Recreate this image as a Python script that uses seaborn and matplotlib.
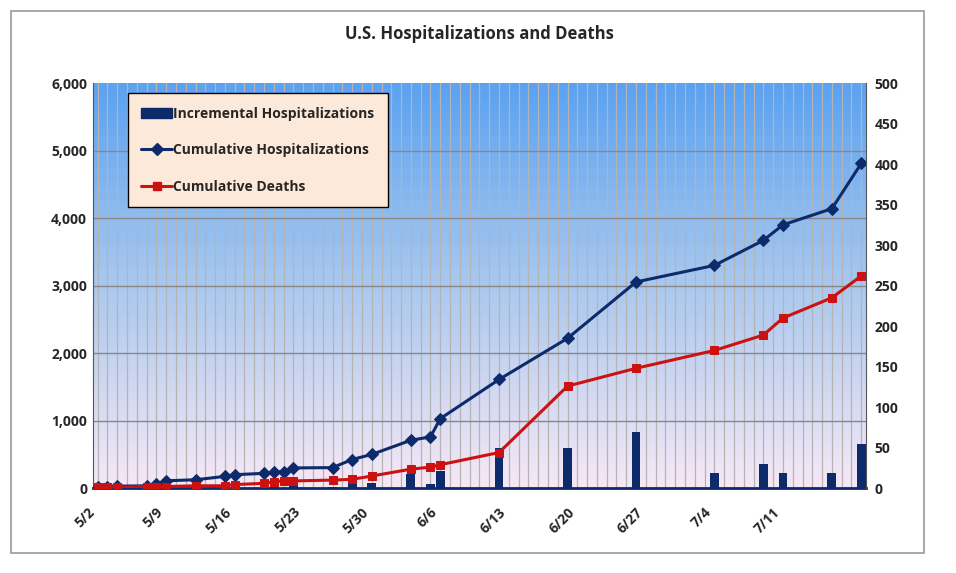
import numpy as np
import pandas as pd
import matplotlib
matplotlib.use("Agg")
import matplotlib.pyplot as plt
import seaborn as sns
from matplotlib.patches import Rectangle
from matplotlib.lines import Line2D
from matplotlib.colors import LinearSegmentedColormap

sns.set_style("white")
plt.rcParams['font.family'] = ['Open Sans', 'DejaVu Sans']

# day index: 0 = 5/2
hosp_days = [0, 1, 2, 5, 6, 7, 10, 13, 14, 17, 18, 19, 20, 24, 26, 28, 32, 34, 35, 41, 48, 55, 63, 68, 70, 75, 78]
hosp_cum = [20, 25, 30, 35, 60, 110, 125, 175, 200, 220, 240, 245, 300, 305, 425, 500, 710, 760, 1030, 1610, 2220, 3055, 3300, 3670, 3900, 4140, 4810]
death_cum = [1, 1, 1, 2, 2, 2, 3, 3, 4.5, 6, 8, 9, 9, 10, 11, 15, 23.5, 26, 29, 44, 126, 148, 170, 189, 210, 235, 262]
bar_days = [17, 18, 19, 20, 24, 26, 28, 32, 34, 35, 41, 48, 55, 63, 68, 70, 75, 78]
bar_vals = [20, 20, 10, 40, 20, 90, 80, 210, 55, 250, 590, 600, 835, 230, 355, 230, 230, 655]
tick_days = [0, 7, 14, 21, 28, 35, 42, 49, 56, 63, 70]
tick_labels = ["5/2", "5/9", "5/16", "5/23", "5/30", "6/6", "6/13", "6/20", "6/27", "7/4", "7/11"]

NAVY = "#0d2a6b"
RED = "#cc1111"

fig = plt.figure(figsize=(9.56, 5.73), dpi=100)
fig.patches.append(Rectangle((0.012, 0.035), 0.955, 0.945, transform=fig.transFigure,
                             fill=False, edgecolor="#999999", lw=1.2))
ax = fig.add_axes([0.097, 0.148, 0.809, 0.707])
ax2 = ax.twinx()

xmin, xmax = -0.5, 78.5
grad = np.linspace(0, 1, 256).reshape(-1, 1)
cmap = LinearSegmentedColormap.from_list("bg", ["#f7e8f5", "#a9c8ee", "#5aa2f2"])
ax.imshow(grad, aspect="auto", cmap=cmap, origin="lower",
          extent=[xmin, xmax, 0, 6000], zorder=0)

for d in range(0, 79):
    ax.axvline(d, color="#b4b4b4", lw=0.9, zorder=1)
for yv in range(1000, 6000, 1000):
    ax.axhline(yv, color="#888888", lw=1.0, zorder=1)

ax.bar(bar_days, bar_vals, width=0.9, color=NAVY, linewidth=0, zorder=3)
df_h = pd.DataFrame({"day": hosp_days, "v": hosp_cum})
sns.lineplot(data=df_h, x="day", y="v", ax=ax, color=NAVY, lw=2.2, marker="D",
             markersize=6, markeredgecolor=NAVY, zorder=4)
df_d = pd.DataFrame({"day": hosp_days, "v": death_cum})
sns.lineplot(data=df_d, x="day", y="v", ax=ax2, color=RED, lw=2.2, marker="s",
             markersize=6, markeredgecolor=RED, zorder=4)

ax.set_xlim(xmin, xmax)
ax.set_ylim(0, 6000)
ax2.set_ylim(0, 500)
ax.set_yticks(range(0, 6001, 1000))
ax.set_yticklabels([f"{v:,}" for v in range(0, 6001, 1000)], fontsize=10, fontweight="bold")
ax2.set_yticks(range(0, 501, 50))
ax2.set_yticklabels([str(v) for v in range(0, 501, 50)], fontsize=10, fontweight="bold")
ax.set_xticks(tick_days)
ax.set_xticklabels(tick_labels, rotation=45, ha="right", fontsize=10, fontweight="bold")
ax.set_xlabel("")
ax.set_ylabel("")
ax2.set_ylabel("")
for a in (ax, ax2):
    for s in a.spines.values():
        s.set_visible(False)
ax.spines["left"].set_visible(True)
ax.spines["left"].set_color("#555555")
ax.spines["bottom"].set_visible(True)
ax.spines["bottom"].set_color(NAVY)
ax.spines["bottom"].set_linewidth(2)
ax2.spines["right"].set_visible(True)
ax2.spines["right"].set_color("#555555")
ax.tick_params(axis="x", length=0, pad=12)
ax.tick_params(axis="y", length=0, pad=4)
ax2.tick_params(axis="y", length=0, pad=6)

ax.set_title("U.S. Hospitalizations and Deaths", fontsize=12, fontweight="bold", pad=32)

handles = [Rectangle((0, 0), 1, 1, color=NAVY),
           Line2D([], [], color=NAVY, lw=2.2, marker="D", markersize=6),
           Line2D([], [], color=RED, lw=2.2, marker="s", markersize=6)]
leg = ax2.legend(handles, ["Incremental Hospitalizations", "Cumulative Hospitalizations", "Cumulative Deaths"],
                 loc="upper left", bbox_to_anchor=(0.045, 0.975), fontsize=10,
                 frameon=True, fancybox=False, borderpad=1.0, labelspacing=1.6,
                 handlelength=2.2, handletextpad=0.1, borderaxespad=0)
leg.get_frame().set_facecolor("#fde9d9")
leg.get_frame().set_edgecolor("black")
leg.get_frame().set_alpha(1)
for t in leg.get_texts():
    t.set_fontweight("bold")

fig.savefig("out.png", dpi=100)
